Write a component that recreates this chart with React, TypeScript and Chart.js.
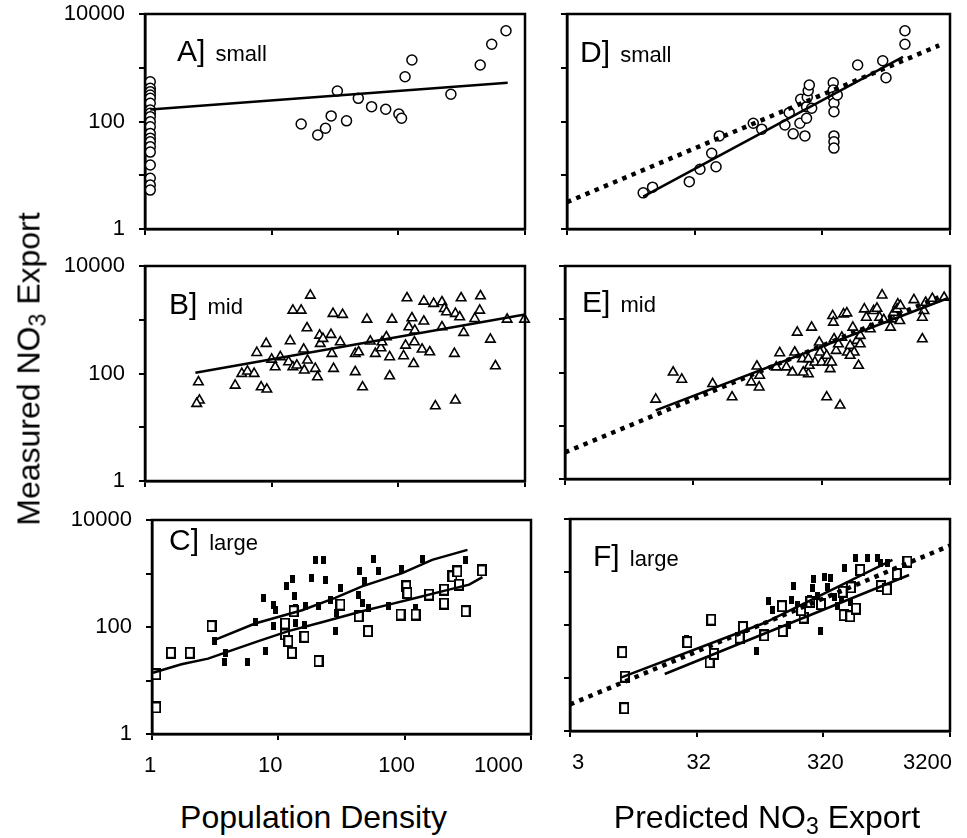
import React, { useEffect, useRef } from 'react';
import { Chart, registerables } from 'chart.js';

Chart.register(...registerables);

const FONT = "'Liberation Sans', Arial, Helvetica, sans-serif";

// ---------- axis ticks ----------
const measTicks = [1, 10, 100, 1000, 10000];
const measLabels = ['1', '', '100', '', '10000'];
const popTicks = [1, 10, 100, 1000];
const popLabels = ['1', '10', '100', '1000'];
const predTicks = [3.1623, 31.623, 316.23, 3162.3];
const predLabels = ['3', '32', '320', '3200'];

// ---------- A] small : population density vs measured ----------
const aX = [1.1, 1.1, 1.1, 1.1, 1.1, 1.1, 1.1, 1.1, 1.1, 1.1, 1.1, 1.1, 1.1, 1.1, 1.1, 1.1, 1.1, 1.1, 1.1, 1.1,
  17.1, 23.1, 26.6, 29.5, 33, 39, 48.3, 61.5, 79.5, 101, 106, 113, 128, 260, 443, 546, 708];
const aY = [550, 415, 359, 311, 270, 218, 164, 142, 123, 99, 80, 60, 49, 42, 34, 27, 15.5, 8.8, 6.6, 5.3,
  90, 56, 75, 127, 369, 103, 270, 189, 169, 138, 115, 681, 1393, 321, 1125, 2730, 4890];
const aFitX = [1.1, 730];
const aFitY = [168, 527];

// ---------- B] mid ----------
const bX = [2.64, 2.69, 2.56, 5.15, 5.81, 6.44, 7.27, 8.26, 9.16, 7.63, 9.05, 10.0, 10.66, 11.7, 13.6, 14.0, 14.7, 14.7, 17.1, 15.8,
  18.1, 17.9, 19.0, 19.2, 20.2, 22.1, 23.0, 23.9, 24.2, 25.4, 29.4, 29.9, 30.8, 30.5, 36.3, 34.8, 45.7, 45.7, 48.6, 52.2,
  56.5, 60.1, 65.8, 72.9, 80.4, 85.4, 85.4, 89.1, 110, 114, 117, 121, 128, 134, 132, 135, 154, 159, 159, 177,
  190, 196, 221, 221, 231, 240, 282, 277, 282, 305, 313, 328, 401, 439, 445, 533, 584, 723, 991, 74.3];
const bY = [69.5, 31.7, 27.5, 60.2, 99.3, 110, 99.3, 56, 50.8, 244, 359, 183, 132, 203, 164, 403, 132, 1497, 1497, 142,
  115, 282, 702, 176, 2845, 123, 86, 513, 359, 445, 528, 234, 123, 1298, 1244, 385, 107, 234, 251, 56,
  1018, 397, 234, 298, 478, 203, 89.8, 1018, 212, 334, 2540, 733, 1078, 385, 152, 635, 282, 2200, 935, 251,
  1992, 24.8, 2138, 733, 1607, 1394, 1298, 234, 31.7, 1125, 2540, 575, 1047, 1497, 2767, 432, 138, 1018, 1018, 385];
const bFitX = [2.5, 1000];
const bFitY = [103, 1250];

// ---------- C] large ----------
const cOpenX = [1.08, 1.08, 1.41, 1.99, 2.96, 11.3, 12.0, 12.8, 13.2, 16.1, 20.8, 31.0, 43.3, 51.3, 92.7, 103, 105, 122,
  156, 205, 205, 239, 269, 304, 408, 261, 11.3];
const cOpenY = [13.1, 3.13, 33, 33, 104, 72.5, 54.5, 33, 197, 65.6, 23.1, 262, 159, 83.6, 171, 575, 432, 171,
  403, 499, 274, 883, 618, 197, 1141, 1094, 116];
const cFillX = [3.11, 3.82, 3.73, 5.72, 6.62, 7.62, 7.85, 9.14, 9.43, 9.14, 11.5, 12.9, 13.4, 13.6, 13.6, 16.1, 16.5, 18.4,
  19.6, 22.8, 23.5, 25.8, 28.2, 29.1, 31.0, 43.3, 43.8, 46.0, 48.3, 52.0, 56.9, 62.4, 74.9, 94.4, 121, 138, 304, 20.8];
const cFillY = [54.5, 33, 22.2, 22.2, 123, 349, 35.5, 262, 206, 104, 575, 787, 375, 227, 120, 111, 244, 822,
  1751, 1803, 765, 325, 83.6, 184, 535, 403, 1094, 282, 713, 227, 1854, 1094, 251, 1208, 227, 1854, 1803, 251];
const cFillFitX = [3.11, 6.54, 15.4, 28.2, 46.0, 95.6, 165, 314];
const cFillFitY = [56.9, 116, 206, 349, 575, 1018, 1803, 2767];
const cOpenFitX = [1.02, 1.71, 2.78, 3.89, 6.95, 12.0, 22.1, 46.0, 74.9, 122, 224, 324, 413];
const cOpenFitY = [14.0, 20.1, 25.6, 34.0, 54.5, 83.6, 123, 197, 262, 349, 499, 618, 858];

// ---------- D] small : predicted vs measured ----------
const dX = [12.5, 14.8, 28.7, 34.8, 43, 46.5, 49.3, 91, 106, 161, 174, 187, 211, 214, 231, 238, 238, 241, 245, 250, 261,
  385, 385, 385, 390, 390, 390, 390, 390, 414, 598, 940, 997, 1403, 1403];
const dY = [4.7, 6.0, 7.6, 12.9, 25.6, 14.4, 54, 93, 72, 86, 146, 59, 93, 259, 54, 115, 189, 282, 374, 478, 176,
  527, 385, 289, 218, 152, 54, 42, 32, 311, 1125, 1352, 653, 4890, 2730];
const dFitX = [12.5, 1355];
const dFitY = [4.0, 1600];
const dOneToOne = [3.1623, 2600];

// ---------- E] mid ----------
const eX = [16.1, 22.0, 25.7, 44.7, 63.4, 98.9, 89.3, 104, 103, 149, 140, 168, 187, 195, 204, 224, 249, 253, 264, 280,
  303, 316, 326, 346, 357, 368, 385, 390, 395, 410, 427, 440, 454, 468, 497, 502, 527, 553, 567, 595,
  613, 632, 680, 705, 757, 804, 853, 895, 935, 963, 1087, 1119, 1153, 1240, 1285, 1655, 1924, 1983, 2042, 2305,
  2846, 1924, 1224, 1300, 632, 307, 346, 249, 227, 378, 527];
const eY = [31.3, 101, 74, 61.4, 34.6, 131, 66, 88, 53, 233, 126, 126, 101, 240, 567, 180, 94, 135, 703, 156,
  369, 156, 258, 34.6, 156, 117, 1162, 873, 426, 258, 343, 24.2, 457, 1250, 1304, 240, 320, 703, 240, 396,
  135, 343, 1549, 1082, 655, 1442, 1594, 1082, 2830, 979, 703, 1007, 1342, 1920, 938, 2313, 426, 1442, 2063, 2450,
  2559, 1082, 1549, 1787, 492, 240, 208, 180, 101, 156, 208];
const eFitX = [16.1, 3000];
const eFitY = [19.5, 2450];
const eOneToOne = [3.1623, 2600];

// ---------- F] large ----------
const fOpenX = [8.17, 8.57, 8.47, 26.7, 41.2, 40.0, 43.3, 69.0, 73.3, 108, 151, 149, 221, 250, 458, 516, 572, 449, 522,
  618, 899, 1003, 1202, 1459, 211, 303];
const fOpenY = [30.7, 10.6, 2.69, 47.6, 126, 19.8, 28.6, 57.5, 91.6, 63.6, 76.9, 226, 138, 273, 153, 146, 204, 423, 512,
  1091, 542, 469, 916, 1571, 190, 247];
const fFillX = [26.2, 93.3, 117, 185, 168, 299, 265, 261, 322, 363, 462, 572, 706, 847, 285, 386, 199, 410, 436, 516,
  126, 178, 245, 342, 507, 899, 1016];
const fFillY = [55, 32.1, 286, 542, 98.6, 76.9, 726, 490, 792, 758, 1174, 1817, 1817, 1817, 350, 340, 236, 226, 316, 273,
  190, 294, 316, 527, 566, 1462, 1462];
const fFit1X = [8.07, 108, 1111];
const fFit1Y = [10.3, 109, 1690];
const fFit2X = [17.7, 1503];
const fFit2Y = [11.9, 877];
const fOneToOne = [3.1623, 3162.3];

// ---------- helpers ----------
const zip = (xs: number[], ys: number[]) => xs.map((x, i) => ({ x, y: ys[i] }));

function rectSprite(w: number, h: number, filled: boolean, lw: number): HTMLCanvasElement {
  const c = document.createElement('canvas');
  c.width = w;
  c.height = h;
  const g = c.getContext('2d')!;
  if (filled) {
    g.fillStyle = '#000';
    g.fillRect(0, 0, w, h);
  } else {
    g.fillStyle = '#000';
    g.fillRect(0, 0, w, h);
    g.fillStyle = '#fff';
    g.fillRect(lw, lw, w - 2 * lw, h - 2 * lw);
  }
  return c;
}

const markers = (xs: number[], ys: number[], style: any, radius: number, fill: string, bw: number) => ({
  data: zip(xs, ys),
  showLine: false,
  pointStyle: style,
  pointRadius: radius,
  pointBorderWidth: bw,
  pointBorderColor: '#000',
  pointBackgroundColor: fill,
  clip: false as any,
});
const circles = (xs: number[], ys: number[]) => markers(xs, ys, 'circle', 5, '#fff', 1.5);
const triangles = (xs: number[], ys: number[]) => markers(xs, ys, 'triangle', 5.5, '#fff', 1.6);
const openSquares = (xs: number[], ys: number[]) => markers(xs, ys, rectSprite(10, 12, false, 2), 6, '#fff', 1);
const fillSquares = (xs: number[], ys: number[]) => markers(xs, ys, rectSprite(5, 8, true, 1), 4, '#000', 1);

const fitLine = (xs: number[], ys: number[]) => ({
  data: zip(xs, ys),
  showLine: true,
  borderColor: '#000',
  borderWidth: 2.5,
  pointRadius: 0,
  tension: 0,
});
const dotted = (vals: number[]) => ({
  data: zip(vals, vals),
  showLine: true,
  borderColor: '#000',
  borderWidth: 4.5,
  borderDash: [4.5, 5.5],
  borderCapStyle: 'butt',
  pointRadius: 0,
});

type Rect = { l: number; t: number; r: number; b: number };
type Cv = { l: number; t: number; w: number; h: number };
type Panel = {
  id: string;
  rect: Rect;
  cv: Cv;
  xTicks: number[];
  xLabels: string[] | null;
  xLabelOffset: number;
  yLabels: string[] | null;
  tag: string;
  word: string;
  tagX: number;
  baseline: number;
  datasets: () => any[];
};

const PANELS: Panel[] = [
  {
    id: 'A', rect: { l: 145, t: 14, r: 525, b: 229 }, cv: { l: 0, t: 0, w: 560, h: 255 },
    xTicks: popTicks, xLabels: null, xLabelOffset: 0, yLabels: measLabels, tag: 'A]', word: 'small', tagX: 177, baseline: 61,
    datasets: () => [fitLine(aFitX, aFitY), circles(aX, aY)],
  },
  {
    id: 'B', rect: { l: 145, t: 266, r: 525, b: 481 }, cv: { l: 0, t: 250, w: 560, h: 255 },
    xTicks: popTicks, xLabels: null, xLabelOffset: 0, yLabels: measLabels, tag: 'B]', word: 'mid', tagX: 169, baseline: 314,
    datasets: () => [fitLine(bFitX, bFitY), triangles(bX, bY)],
  },
  {
    id: 'C', rect: { l: 152, t: 520, r: 531, b: 734 }, cv: { l: 0, t: 495, w: 560, h: 300 },
    xTicks: popTicks, xLabels: popLabels, xLabelOffset: -8, yLabels: measLabels, tag: 'C]', word: 'large', tagX: 169, baseline: 550,
    datasets: () => [fitLine(cFillFitX, cFillFitY), fitLine(cOpenFitX, cOpenFitY), openSquares(cOpenX, cOpenY), fillSquares(cFillX, cFillY)],
  },
  {
    id: 'D', rect: { l: 567, t: 14, r: 950, b: 229 }, cv: { l: 540, t: 0, w: 440, h: 255 },
    xTicks: predTicks, xLabels: null, xLabelOffset: 0, yLabels: null, tag: 'D]', word: 'small', tagX: 580, baseline: 62,
    datasets: () => [fitLine(dFitX, dFitY), dotted(dOneToOne), circles(dX, dY)],
  },
  {
    id: 'E', rect: { l: 565, t: 266, r: 950, b: 479 }, cv: { l: 540, t: 250, w: 440, h: 255 },
    xTicks: predTicks, xLabels: null, xLabelOffset: 0, yLabels: null, tag: 'E]', word: 'mid', tagX: 582, baseline: 312,
    datasets: () => [fitLine(eFitX, eFitY), dotted(eOneToOne), triangles(eX, eY)],
  },
  {
    id: 'F', rect: { l: 570, t: 519, r: 950, b: 731 }, cv: { l: 540, t: 495, w: 440, h: 300 },
    xTicks: predTicks, xLabels: predLabels, xLabelOffset: 2, yLabels: null, tag: 'F]', word: 'large', tagX: 593, baseline: 566,
    datasets: () => [fitLine(fFit1X, fFit1Y), fitLine(fFit2X, fFit2Y), dotted(fOneToOne), openSquares(fOpenX, fOpenY), fillSquares(fFillX, fFillY)],
  },
];

const framePlugin = {
  id: 'frame',
  afterDatasetsDraw(chart: any) {
    const { ctx, chartArea: a } = chart;
    ctx.save();
    ctx.strokeStyle = '#000';
    ctx.lineWidth = 2.5;
    ctx.strokeRect(a.left, a.top, a.right - a.left, a.bottom - a.top);
    ctx.restore();
  },
};

function buildConfig(p: Panel): any {
  const { rect, cv } = p;
  const tickFont = { family: FONT, size: 22 };
  return {
    type: 'scatter',
    data: { datasets: p.datasets() },
    options: {
      animation: false,
      responsive: false,
      maintainAspectRatio: false,
      events: [],
      layout: { padding: { left: 0, top: rect.t - cv.t, right: cv.l + cv.w - rect.r, bottom: 0 } },
      plugins: { legend: { display: false }, tooltip: { enabled: false }, title: { display: false } },
      scales: {
        x: {
          type: 'logarithmic',
          position: 'bottom',
          min: p.xTicks[0],
          max: p.xTicks[p.xTicks.length - 1],
          afterBuildTicks: (s: any) => { s.ticks = p.xTicks.map((v) => ({ value: v })); },
          afterFit: (s: any) => { s.height = cv.t + cv.h - rect.b; s.paddingLeft = 0; s.paddingRight = 0; },
          ticks: {
            autoSkip: false, maxRotation: 0, minRotation: 0, padding: 13, color: '#000', font: tickFont,
            align: 'inner', labelOffset: p.xLabelOffset,
            callback: (_v: any, i: number) => (p.xLabels ? p.xLabels[i] : ''),
          },
          grid: { display: true, drawOnChartArea: false, drawTicks: true, tickLength: 6, lineWidth: 2, color: '#000' },
          border: { display: true, color: '#000', width: 2.5 },
        },
        y: {
          type: 'logarithmic',
          position: 'left',
          min: measTicks[0],
          max: measTicks[measTicks.length - 1],
          afterBuildTicks: (s: any) => { s.ticks = measTicks.map((v) => ({ value: v })); },
          afterFit: (s: any) => { s.width = rect.l - cv.l; s.paddingTop = 0; s.paddingBottom = 0; },
          ticks: {
            autoSkip: false, padding: 14, color: '#000', font: tickFont,
            callback: (_v: any, i: number) => (p.yLabels ? p.yLabels[i] : ''),
          },
          grid: { display: true, drawOnChartArea: false, drawTicks: true, tickLength: 6, lineWidth: 2, color: '#000' },
          border: { display: true, color: '#000', width: 2.5 },
        },
      },
    },
    plugins: [framePlugin],
  };
}

function PanelChart({ p }: { p: Panel }) {
  const ref = useRef<HTMLCanvasElement | null>(null);
  useEffect(() => {
    if (!ref.current) return;
    const chart = new Chart(ref.current, buildConfig(p));
    return () => chart.destroy();
  }, [p]);
  return (
    <canvas
      ref={ref}
      width={p.cv.w}
      height={p.cv.h}
      style={{ position: 'absolute', left: p.cv.l, top: p.cv.t, width: p.cv.w, height: p.cv.h }}
    />
  );
}

function PanelTag({ p }: { p: Panel }) {
  return (
    <div
      style={{
        position: 'absolute', left: p.tagX, top: p.baseline - 25.5, fontFamily: FONT, fontSize: 30,
        lineHeight: '30px', whiteSpace: 'nowrap', color: '#000',
      }}
    >
      {p.tag}
      <span style={{ fontSize: 22, marginLeft: 4 }}> {p.word}</span>
    </div>
  );
}

const sub3 = (
  <span style={{ fontSize: '0.72em', position: 'relative', top: '0.28em' }}>3</span>
);

export default function App() {
  return (
    <div
      style={{
        position: 'absolute', left: 0, top: 0, width: 967, height: 838, overflow: 'hidden', background: '#fff',
      }}
    >
      {PANELS.map((p) => (
        <PanelChart key={p.id} p={p} />
      ))}
      {PANELS.map((p) => (
        <PanelTag key={'t' + p.id} p={p} />
      ))}
      <div
        style={{
          position: 'absolute', left: 30, top: 369, transform: 'translate(-50%, -50%) rotate(-90deg)',
          fontFamily: FONT, fontSize: 32, lineHeight: '32px', whiteSpace: 'nowrap', color: '#000',
        }}
      >
        Measured NO{sub3} Export
      </div>
      <div
        style={{
          position: 'absolute', left: 313.5, top: 801, transform: 'translateX(-50%)',
          fontFamily: FONT, fontSize: 32, lineHeight: '32px', whiteSpace: 'nowrap', color: '#000',
        }}
      >
        Population Density
      </div>
      <div
        style={{
          position: 'absolute', left: 767, top: 801, transform: 'translateX(-50%)',
          fontFamily: FONT, fontSize: 32, lineHeight: '32px', whiteSpace: 'nowrap', color: '#000',
        }}
      >
        Predicted NO{sub3} Export
      </div>
    </div>
  );
}
